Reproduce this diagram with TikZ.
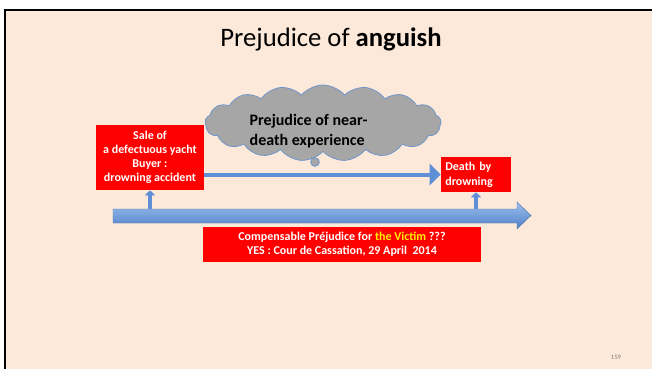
\documentclass[tikz,border=0pt]{standalone}
\usepackage{fontspec}
\setmainfont{Carlito}
\usepackage{tikz}
\usetikzlibrary{arrows.meta, shapes.symbols, calc, positioning}

\definecolor{slidebg}{HTML}{FDE9D9}
\definecolor{boxred}{HTML}{FF0000}
\definecolor{arrowblue}{HTML}{5F8FD6}
\definecolor{arrowtop}{HTML}{9CC0EE}
\definecolor{arrowbot}{HTML}{4F7FC8}
\definecolor{cloudgray}{HTML}{A6A6A6}
\definecolor{cloudline}{HTML}{6E96CC}

\tikzset{
    redbox/.style={rectangle, fill=boxred, text=white, inner sep=2pt,
        font=\fontsize{9}{10.5}\selectfont\bfseries},
    thinarrow/.style={draw=arrowblue, line width=3pt,
        -{Triangle[width=15.75pt, length=8.25pt]}},
    uparrow/.style={draw=arrowblue, line width=3.6pt,
        -{Triangle[width=7.5pt, length=3.75pt]}}
}

\begin{document}
\begin{tikzpicture}[x=0.75pt, y=-0.75pt]
\useasboundingbox (0,0) rectangle (652,369);
\fill[white] (0,0) rectangle (652,369);
\fill[slidebg] (5,10) rectangle (652,369);
\draw[black, line width=2.2pt] (5,369) -- (5,10) -- (652,10);

\node (title) at (331,39) {\fontsize{20}{24}\selectfont Prejudice of \textbf{anguish}};

% time line
\coordinate (tl) at (113,209);
\shade[top color=arrowtop, bottom color=arrowbot, draw=arrowblue!80!black, line width=0.3pt]
    (tl) -- (517,209) -- (517,202) -- (531,215.5) -- (517,229) -- (517,223) -- (113,223) -- cycle;

\node[redbox, minimum width=81pt, minimum height=48.75pt, align=center] (sale) at (150,157.5)
    {Sale of\\a defectuous yacht\\Buyer :\\drowning accident};
\node[redbox, minimum width=52.5pt, minimum height=26.25pt, align=left, text width=46pt,
    font=\fontsize{9}{11}\selectfont\bfseries] (death) at (476,174.5)
    {Death by\\drowning};
\node[redbox, minimum width=208.5pt, minimum height=26.25pt, align=center] (court) at (342,244.5)
    {Compensable Préjudice for \textcolor{yellow}{the Victim} ???\\YES : Cour de Cassation, 29 April~~2014};

\node[cloud, cloud puffs=17, cloud puff arc=100, fill=cloudgray, draw=cloudline, line width=0.6pt,
    minimum width=177pt, minimum height=57pt] (cl) at (323,123) {};
\node[circle, fill=cloudgray, draw=cloudline, line width=0.6pt, minimum size=6.5pt, inner sep=0pt]
    (bub) at (315,162) {};
\node[anchor=west, align=left, font=\fontsize{12}{15}\selectfont\bfseries] (cltext) at (245,131)
    {Prejudice of near-\\death experience};

\draw[thinarrow] (sale.east |- death.west) -- (death.west);
\draw[uparrow] (sale.south |- tl) -- (sale.south);
\draw[uparrow] (death.south |- tl) -- (death.south);

\node[text=gray, font=\fontsize{5}{6}\selectfont] (page) at (616,357) {159};
\end{tikzpicture}
\end{document}
